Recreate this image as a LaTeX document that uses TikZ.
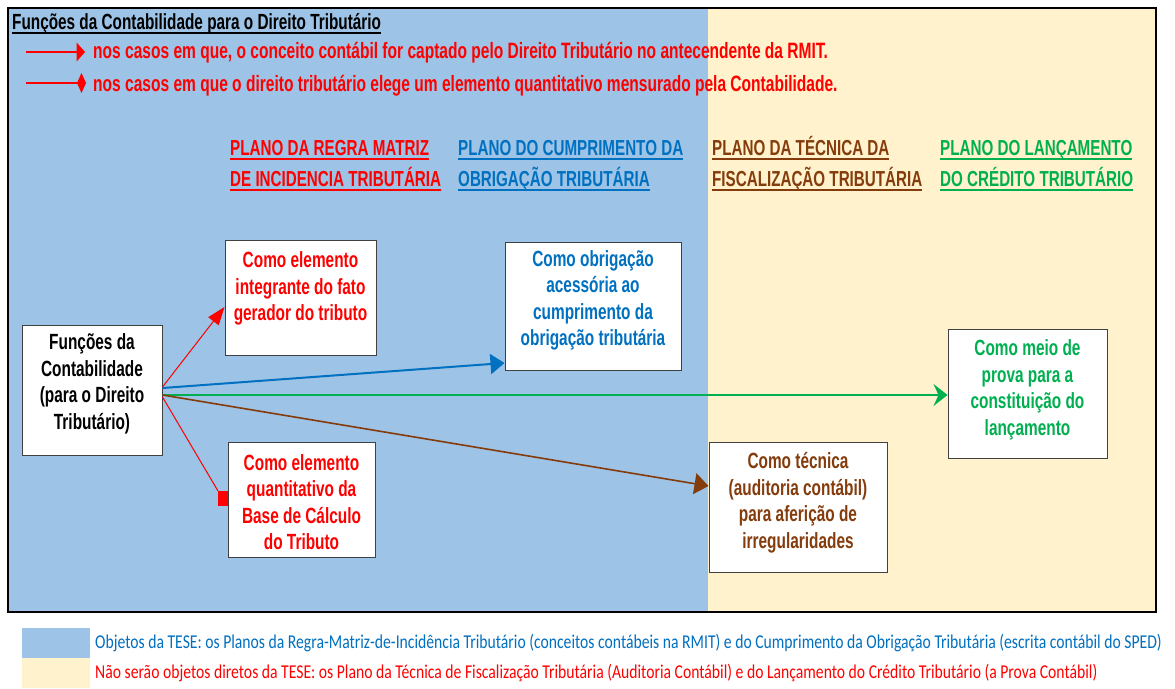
\documentclass[tikz,border=0pt]{standalone}
\usepackage{fontspec}
\setmainfont{Liberation Sans}
\newfontfamily\narfont[FakeStretch=0.70]{Liberation Sans}
\newfontfamily\carlfont[FakeStretch=0.80]{Carlito}
\newcommand{\uln}[1]{\setbox0\hbox{#1}\rlap{\rule[-5.2pt]{\wd0}{2.2pt}}\box0}
\newcommand{\ulnt}[1]{\setbox0\hbox{#1}\rlap{\rule[-4pt]{\wd0}{1.5pt}}\box0}
\usetikzlibrary{arrows.meta}
\definecolor{bgblue}{HTML}{9DC3E6}
\definecolor{bgcream}{HTML}{FFF2CC}
\definecolor{tblue}{HTML}{0070C0}
\definecolor{tbrown}{HTML}{843C0C}
\definecolor{tgreen}{HTML}{00B050}
\definecolor{tred}{HTML}{FF0000}
\begin{document}
\begin{tikzpicture}[x=1pt,y=-1pt,
 box/.style={draw=black!75, line width=1pt, fill=white, inner sep=0pt},
 btext/.style={font=\narfont\bfseries\fontsize{22}{26.5}\selectfont, align=center, inner sep=0pt},
 head/.style={font=\narfont\bfseries\fontsize{21.7}{31}\selectfont, align=left, anchor=base west, inner sep=0pt},
 legtext/.style={font=\narfont\bfseries\fontsize{22.2}{24}\selectfont, text=tred, anchor=west, inner sep=0pt},
 bottext/.style={font=\carlfont\fontsize{19.6}{22}\selectfont, anchor=west, inner sep=0pt},
 conn/.style={line width=1.6pt},
]
\useasboundingbox (0,0) rectangle (1175,688);
\fill[white] (0,0) rectangle (1175,688);
\fill[bgblue] (8,8) rectangle (708,612);
\fill[bgcream] (708,8) rectangle (1156,612);
\draw[line width=2.5pt] (8,8) rectangle (1156,612);

% title and legend
\node[anchor=base west, inner sep=0pt, font=\narfont\bfseries\fontsize{21.9}{24}\selectfont] (title) at (12,29.5) {\ulnt{Funções da Contabilidade para o Direito Tributário}};
\coordinate (l1a) at (26,52);
\coordinate (l1b) at (85,52);
\coordinate (l2a) at (26,83);
\coordinate (l2b) at (86,83);
\draw[tred, line width=1.2pt, -{Triangle[length=8.5pt,width=19pt]}] (l1a) -- (l1b);
\draw[tred, line width=1.2pt, -{Diamond[length=9pt,width=20pt]}] (l2a) -- (l2b);
\node[legtext] (leg1) at (93,53) {nos casos em que, o conceito contábil for captado pelo Direito Tributário no antecendente da RMIT.};
\node[legtext] (leg2) at (93,86) {nos casos em que o direito tributário elege um elemento quantitativo mensurado pela Contabilidade.};

% headings (anchor at baseline of last line)
\node[head, text=tred] (h1) at (230,186) {\uln{PLANO DA REGRA MATRIZ}\\\uln{DE INCIDENCIA TRIBUTÁRIA}};
\node[head, text=tblue] (h2) at (458,186) {\uln{PLANO DO CUMPRIMENTO DA}\\\uln{OBRIGAÇÃO TRIBUTÁRIA}};
\node[head, text=tbrown] (h3) at (712,186) {\uln{PLANO DA TÉCNICA DA}\\\uln{FISCALIZAÇÃO TRIBUTÁRIA}};
\node[head, text=tgreen] (h4) at (940,186) {\uln{PLANO DO LANÇAMENTO}\\\uln{DO CRÉDITO TRIBUTÁRIO}};

% boxes
\node[box, minimum width=140pt, minimum height=130pt] (lb) at (92,390) {};
\node[btext, text=black] (lbt) at (92,384) {Funções da\\Contabilidade\\(para o Direito\\Tributário)};
\node[box, minimum width=151pt, minimum height=115pt] (rb1) at (300.5,297.5) {};
\node[btext, text=tred] (rb1t) at (300.5,288.5) {Como elemento\\integrante do fato\\gerador do tributo};
\node[box, minimum width=147pt, minimum height=115pt] (rb2) at (301.5,499.5) {};
\node[btext, text=tred] (rb2t) at (301.5,502) {Como elemento\\quantitativo da\\Base de Cálculo\\do Tributo};
\node[box, minimum width=176pt, minimum height=128pt] (bb) at (593,306.5) {};
\node[btext, text=tblue] (bbt) at (593,300.5) {Como obrigação\\acessória ao\\cumprimento da\\obrigação tributária};
\node[box, minimum width=178pt, minimum height=130pt] (wb) at (798,507) {};
\node[btext, text=tbrown] (wbt) at (798,503) {Como técnica\\(auditoria contábil)\\para aferição de\\irregularidades};
\node[box, minimum width=159pt, minimum height=129pt] (gb) at (1027.5,393.5) {};
\node[btext, text=tgreen] (gbt) at (1027.5,390) {Como meio de\\prova para a\\constituição do\\lançamento};

% connectors
\coordinate (sq) at (218,491);
\draw[tred, line width=1pt, -{Triangle[length=18pt,width=13pt]}] ([yshift=3pt]lb.east) -- ([yshift=-9.5pt]rb1.west);
\draw[tblue, line width=2pt, -{Triangle[length=14pt,width=20pt]}] ([yshift=2pt]lb.east) -- ([yshift=-56.5pt]bb.west);
\draw[tgreen, line width=2pt, -{Stealth[length=14pt,width=22pt,inset=5pt]}] ([yshift=-5pt]lb.east) -- ([yshift=-1.5pt]gb.west);
\draw[conn, tbrown, -{Triangle[length=14pt,width=21pt]}] ([yshift=-5pt]lb.east) -- ([yshift=21pt]wb.west);
\draw[tred, line width=1pt] ([yshift=-7pt]lb.east) -- (sq);
\fill[tred] (sq) rectangle ++(10,15);

% bottom legend
\fill[bgblue] (22,628) rectangle (90,658);
\fill[bgcream] (22,658) rectangle (90,688);
\node[bottext, text=tblue] (bot1) at (95,643) {Objetos da TESE: os Planos da Regra-Matriz-de-Incidência Tributário (conceitos contábeis na RMIT) e do Cumprimento da Obrigação Tributária (escrita contábil do SPED)};
\node[bottext, text=tred] (bot2) at (95,673) {Não serão objetos diretos da TESE: os Plano da Técnica de Fiscalização Tributária (Auditoria Contábil) e do Lançamento do Crédito Tributário (a Prova Contábil)};
\end{tikzpicture}
\end{document}
